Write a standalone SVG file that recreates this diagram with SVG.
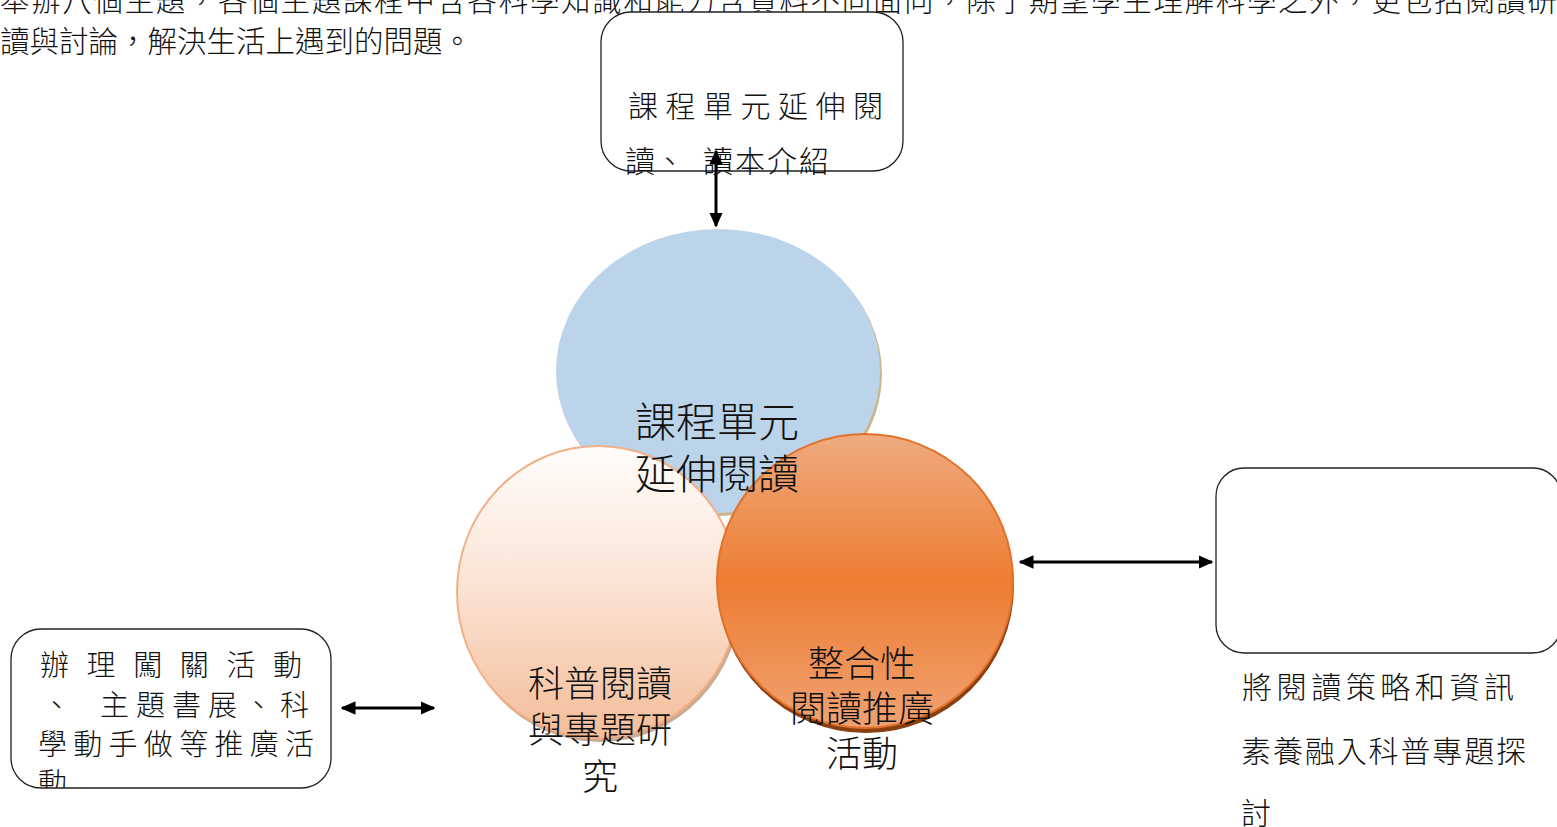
<svg xmlns="http://www.w3.org/2000/svg" width="1557" height="827" viewBox="0 0 1557 827">
<style>
.t{font-family:"Noto Sans CJK TC","Noto Sans CJK SC",sans-serif;font-weight:300;fill:#111;}
.box{fill:#fff;stroke:#222;stroke-width:1.3;}
.con{stroke:#000;stroke-width:3;fill:none;marker-start:url(#ah);marker-end:url(#ah);}
</style>
<defs>
<marker id="ah" viewBox="0 0 10 10" refX="9" refY="5" markerWidth="5" markerHeight="5" markerUnits="strokeWidth" orient="auto-start-reverse">
<path d="M0,0.5 L10,5 L0,9.5 Z" fill="#000"/>
</marker>
<linearGradient id="gPeach" x1="0" y1="0" x2="0" y2="1">
<stop offset="0" stop-color="#fffdfb"/>
<stop offset="0.45" stop-color="#fbe5d7"/>
<stop offset="1" stop-color="#f4bd99"/>
</linearGradient>
<linearGradient id="gOrange" x1="0" y1="0" x2="0" y2="1">
<stop offset="0" stop-color="#efab80"/>
<stop offset="0.5" stop-color="#ed7d31"/>
<stop offset="1" stop-color="#f0a273"/>
</linearGradient>
<clipPath id="clipLeft"><rect x="11" y="629" width="320" height="159" rx="30"/></clipPath>
</defs>

<g id="intro-text">
<text class="t" x="0" y="11" font-size="29.5" textLength="1557" lengthAdjust="spacing">舉辦八個主題，各個主題課程中含各科學知識和能力含資料不同面向，除了期望學生理解科學之外，更包括閱讀研</text>
<text class="t" x="0" y="52" font-size="29.5">讀與討論，解決生活上遇到的問題。</text>
</g>

<g id="node-top-box">
<rect class="box" x="601" y="12" width="302" height="159" rx="30"/>
<text class="t" x="628" y="117" font-size="30" textLength="255" lengthAdjust="spacing">課程單元延伸閱</text>
<text class="t" x="625" y="172" font-size="30">讀、</text>
<text class="t" x="703" y="172" font-size="30" textLength="126" lengthAdjust="spacing">讀本介紹</text>
</g>

<g id="node-left-box">
<rect class="box" x="11" y="629" width="320" height="159" rx="30"/>
<g clip-path="url(#clipLeft)">
<text class="t" x="40" y="676" font-size="29" textLength="262" lengthAdjust="spacing">辦理闖關活動</text>
<text class="t" x="42" y="716" font-size="29">、</text>
<text class="t" x="100" y="716" font-size="29" textLength="209" lengthAdjust="spacing">主題書展、科</text>
<text class="t" x="38" y="755" font-size="29" textLength="276" lengthAdjust="spacing">學動手做等推廣活</text>
<text class="t" x="38" y="794" font-size="29">動</text>
</g>
</g>

<g id="node-right-box">
<rect class="box" x="1216" y="468" width="345" height="185" rx="28"/>
<text class="t" x="1242" y="698" font-size="30" textLength="272" lengthAdjust="spacing">將閱讀策略和資訊</text>
<text class="t" x="1241" y="762" font-size="30" textLength="285" lengthAdjust="spacing">素養融入科普專題探</text>
<text class="t" x="1241" y="824" font-size="30">討</text>
</g>

<g id="node-course">
<ellipse cx="720" cy="374" rx="162" ry="142" fill="#c9b88e"/>
<ellipse cx="718" cy="371" rx="162" ry="142" fill="#bcd4ea"/>
</g>
<g id="node-science">
<ellipse cx="600" cy="596" rx="141" ry="146" fill="#c9aa92"/>
<ellipse cx="598" cy="592" rx="141" ry="146" fill="url(#gPeach)" stroke="#f2b088" stroke-width="2"/>
</g>
<g id="node-promo">
<ellipse cx="866" cy="586" rx="148" ry="147" fill="#8a3f10"/>
<ellipse cx="865" cy="581" rx="148" ry="147" fill="url(#gOrange)" stroke="#e2712a" stroke-width="2"/>
</g>

<g id="node-labels" text-anchor="middle">
<text id="label-course" class="t" x="717" y="437" font-size="41">課程單元</text>
<text id="label-course2" class="t" x="717" y="489" font-size="41">延伸閱讀</text>
<text id="label-science" class="t" x="600" y="697" font-size="36">科普閱讀</text>
<text id="label-science2" class="t" x="600" y="743" font-size="36">與專題研</text>
<text id="label-science3" class="t" x="600" y="790" font-size="36">究</text>
<text id="label-promo" class="t" x="862" y="677" font-size="36">整合性</text>
<text id="label-promo2" class="t" x="862" y="722" font-size="36">閱讀推廣</text>
<text id="label-promo3" class="t" x="862" y="767" font-size="36">活動</text>
</g>

<g id="connectors">
<line class="con" x1="716" y1="151" x2="716" y2="226"/>
<line class="con" x1="342" y1="708" x2="434" y2="708"/>
<line class="con" x1="1020" y1="562" x2="1212" y2="562"/>
</g>
</svg>
